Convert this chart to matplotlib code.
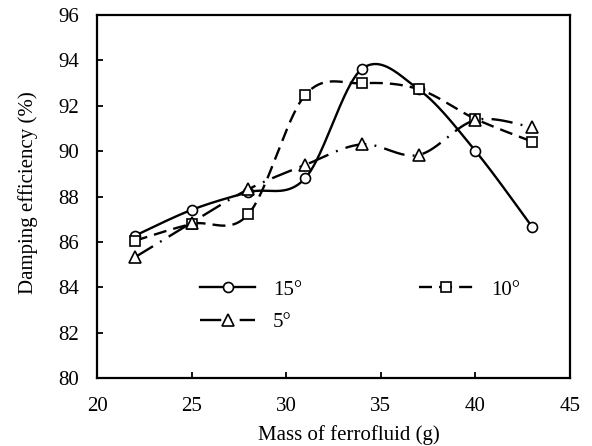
import numpy as np
import matplotlib
matplotlib.use("Agg")
import matplotlib.pyplot as plt

mass = [22, 25, 28, 31, 34, 37, 40, 43]
eff_15 = [86.27, 87.41, 88.19, 88.80, 93.62, 92.72, 90.01, 86.66]
eff_10 = [86.05, 86.79, 87.22, 92.47, 92.99, 92.73, 91.42, 90.42]
eff_5 = [85.32, 86.85, 88.32, 89.39, 90.30, 89.83, 91.37, 91.05]
labels = ["15°", "10°", "5°"]
x_ticks = [20, 25, 30, 35, 40, 45]
y_ticks = [80, 82, 84, 86, 88, 90, 92, 94, 96]

plt.rcParams['font.family'] = ['Liberation Serif', 'DejaVu Serif']
plt.rcParams['font.size'] = 15

W, H = 592, 446
fig = plt.figure(figsize=(W / 100, H / 100), dpi=100)
ax = fig.add_axes([97 / W, (446 - 378) / H, (570 - 97) / W, (378 - 15) / H])
ax.set_xlim(20, 45)
ax.set_ylim(80, 96)

axw, axh = 473.0, 363.0


def smooth(xs, ys, n=40):
    # Excel-like smoothed line (Catmull-Rom Bezier) computed in pixel-scaled space
    sx = axw / 25.0
    sy = axh / 16.0
    P = np.column_stack([np.asarray(xs, float) * sx, np.asarray(ys, float) * sy])
    m = len(P)
    out = []
    t = np.linspace(0, 1, n)[:, None]
    for i in range(m - 1):
        p0 = P[i - 1] if i > 0 else P[i]
        p1 = P[i]
        p2 = P[i + 1]
        p3 = P[i + 2] if i + 2 < m else P[i + 1]
        c1 = p1 + (p2 - p0) / 6.0
        c2 = p2 - (p3 - p1) / 6.0
        seg = ((1 - t) ** 3) * p1 + 3 * ((1 - t) ** 2) * t * c1 + 3 * (1 - t) * t ** 2 * c2 + t ** 3 * p2
        out.append(seg if i == 0 else seg[1:])
    out = np.vstack(out)
    return out[:, 0] / sx, out[:, 1] / sy


lw = 1.7
styles = [
    (eff_15, 'o', '-', 7.2),
    (eff_10, 's', (0, (5.5, 3)), 7.0),
    (eff_5, '^', (0, (9, 3.5, 0.8, 3.5)), 8.0),
]
handles = []
for (ys, mk, ls, ms), lab in zip(styles, labels):
    cx, cy = smooth(mass, ys)
    ax.plot(cx, cy, color='black', lw=lw, linestyle=ls, zorder=2)
    ax.plot(mass, ys, linestyle='none', marker=mk, ms=ms, mfc='white',
            mec='black', mew=1.2, zorder=3)
    h, = ax.plot([], [], color='black', lw=lw, linestyle=ls, marker=mk, ms=ms,
                 mfc='white', mec='black', mew=1.2, label=lab)
    handles.append(h)

leg = ax.legend([handles[0], handles[2], handles[1]], [labels[0], labels[2], labels[1]],
                ncol=2, frameon=False, loc='upper left',
                bbox_to_anchor=((200 - 97) / axw, (378 - 280) / axh),
                borderpad=0, borderaxespad=0,
                handlelength=2.65, columnspacing=5.6, numpoints=1,
                labelspacing=0.62, handletextpad=0.85, fontsize=15)

ax.set_xticks(x_ticks)
ax.set_yticks(y_ticks)
ax.tick_params(axis='both', direction='in', length=4.5, width=1.3, labelsize=15)
ax.tick_params(axis='y', pad=13)
ax.tick_params(axis='x', pad=13.5)
for s in ax.spines.values():
    s.set_linewidth(1.6)
ax.set_xlabel('Mass of ferrofluid (g)', fontsize=15, va='top')
ax.xaxis.set_label_coords((349 - 97) / axw, (378 - 425) / axh)
ax.set_ylabel('Damping efficiency (%)', fontsize=15)
ax.yaxis.set_label_coords((38 - 97) / axw, 0.51)

fig.savefig('out.png', dpi=100)
